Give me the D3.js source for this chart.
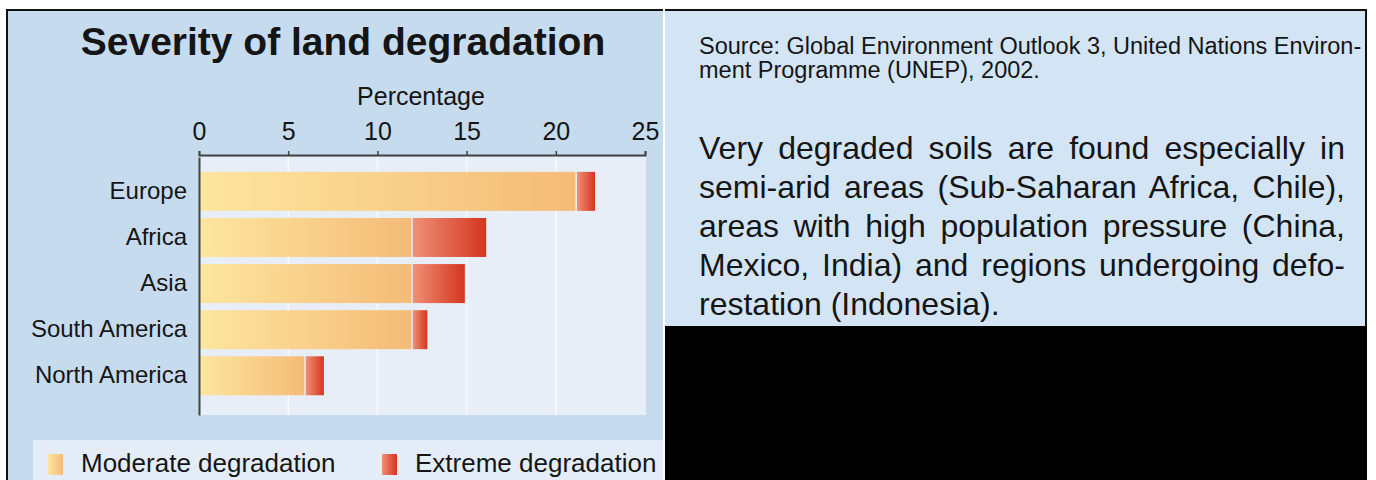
<!DOCTYPE html>
<html>
<head>
<meta charset="utf-8">
<script src="https://cdn.jsdelivr.net/npm/d3@7"></script>
<style>
  body { margin: 0; background: #fff; }
  text { font-family: "Liberation Sans", Arial, sans-serif; fill: #151515; }
</style>
</head>
<body>
<div id="chart"></div>
<script>
// values
const categories = ["Europe", "Africa", "Asia", "South America", "North America"];
const moderate = [21.1, 11.9, 11.9, 11.9, 5.9];
const extreme = [1.1, 4.2, 3.0, 0.9, 1.1];
const xTicks = [0, 5, 10, 15, 20, 25];
const legendLabels = ["Moderate degradation", "Extreme degradation"];
const sourceLines = [
  "Source: Global Environment Outlook 3, United Nations Environ-",
  "ment Programme (UNEP), 2002."
];
const noteLines = [
  "Very degraded soils are found especially in",
  "semi-arid areas (Sub-Saharan Africa, Chile),",
  "areas with high population pressure (China,",
  "Mexico, India) and regions undergoing defo-",
  "restation (Indonesia)."
];

const W = 1376, H = 480;

const svg = d3.select("#chart")
  .append("svg")
    .attr("width", W)
    .attr("height", H);

svg.append("rect").attr("width", W).attr("height", H).attr("fill", "#fff");

// gradients for the bars
const defs = svg.append("defs");
function grad(id, c0, c1) {
  const g = defs.append("linearGradient").attr("id", id)
    .attr("x1", 0).attr("x2", 1).attr("y1", 0).attr("y2", 0);
  g.append("stop").attr("offset", "0%").attr("stop-color", c0);
  g.append("stop").attr("offset", "100%").attr("stop-color", c1);
}
grad("gradModerate", "#fde69f", "#f4bb77");
grad("gradExtreme", "#ef9176", "#d4351e");

// ---- left panel ----
svg.append("rect")
  .attr("x", 6).attr("y", 9).attr("width", 657).attr("height", H)
  .attr("fill", "#c7dbef");
svg.append("path")
  .attr("d", `M7,${H} V10 H663`)
  .attr("fill", "none").attr("stroke", "#111").attr("stroke-width", 2);

svg.append("text")
  .attr("x", 343).attr("y", 55)
  .attr("text-anchor", "middle")
  .style("font-size", "39px")
  .style("font-weight", "bold")
  .text("Severity of land degradation");

const x = d3.scaleLinear()
  .domain([0, 25])
  .range([199, 645]);

const y = d3.scaleBand()
  .domain(categories)
  .range([157, 415])
  .paddingInner(0.154)
  .paddingOuter(0.375)
  .align(0.43);

// plot background
svg.append("rect")
  .attr("x", x(0)).attr("y", y.range()[0])
  .attr("width", 447).attr("height", y.range()[1] - y.range()[0])
  .attr("fill", "#e7eef8");

// faint grid lines
svg.append("g")
  .selectAll("line")
  .data(xTicks.slice(1, -1))
  .join("line")
    .attr("x1", d => x(d)).attr("x2", d => x(d))
    .attr("y1", y.range()[0]).attr("y2", y.range()[1])
    .attr("stroke", "#fff").attr("stroke-width", 1.5).attr("opacity", 0.8);

// bars
const bars = svg.append("g")
  .selectAll("g")
  .data(categories)
  .join("g");

bars.append("rect")
  .attr("x", x(0) + 1)
  .attr("y", d => y(d))
  .attr("width", (d, i) => x(moderate[i]) - x(0) - 1)
  .attr("height", y.bandwidth())
  .attr("fill", "url(#gradModerate)");

bars.append("rect")
  .attr("x", (d, i) => x(moderate[i]) + 1.5)
  .attr("y", d => y(d))
  .attr("width", (d, i) => x(moderate[i] + extreme[i]) - x(moderate[i]) - 1.5)
  .attr("height", y.bandwidth())
  .attr("fill", "url(#gradExtreme)");

// top axis
const xAxis = svg.append("g")
  .attr("transform", "translate(0,155)")
  .call(d3.axisTop(x).tickValues(xTicks).tickSize(4).tickSizeOuter(4).tickPadding(11));
xAxis.select(".domain").attr("stroke", "#444").attr("stroke-width", 2);
xAxis.selectAll(".tick line").attr("stroke", "#444").attr("stroke-width", 1.5);
xAxis.selectAll("text")
  .style("font-size", "25px")
  .style("font-family", "'Liberation Sans', Arial, sans-serif")
  .attr("fill", "#151515");

svg.append("text")
  .attr("x", 421).attr("y", 105)
  .attr("text-anchor", "middle")
  .style("font-size", "25px")
  .text("Percentage");

// left axis with category names
const yAxis = svg.append("g")
  .attr("transform", `translate(${x(0)},0)`)
  .call(d3.axisLeft(y).tickSize(0).tickPadding(12));
yAxis.select(".domain").attr("stroke", "#444").attr("stroke-width", 2);
yAxis.selectAll("text")
  .style("font-size", "24px")
  .style("font-family", "'Liberation Sans', Arial, sans-serif")
  .attr("fill", "#151515");

// legend
svg.append("rect")
  .attr("x", 33).attr("y", 440).attr("width", 630).attr("height", 40)
  .attr("fill", "#e4edf7");

const legend = svg.append("g")
  .selectAll("g")
  .data(legendLabels)
  .join("g")
    .attr("transform", (d, i) => `translate(${[48, 382][i]},454)`);
legend.append("rect")
  .attr("width", 15).attr("height", 21)
  .attr("fill", (d, i) => i ? "url(#gradExtreme)" : "url(#gradModerate)");
legend.append("text")
  .attr("x", 33).attr("y", 18)
  .style("font-size", "26px")
  .text(d => d);

// ---- right panel ----
svg.append("rect")
  .attr("x", 665).attr("y", 10).attr("width", 701).attr("height", 316)
  .attr("fill", "#d3e5f5");
svg.append("path")
  .attr("d", "M665,10 H1366 V326")
  .attr("fill", "none").attr("stroke", "#111").attr("stroke-width", 2);
svg.append("rect")
  .attr("x", 665).attr("y", 326).attr("width", 702).attr("height", H - 326)
  .attr("fill", "#000");

svg.append("g")
  .selectAll("text")
  .data(sourceLines)
  .join("text")
    .attr("x", 699)
    .attr("y", (d, i) => 54 + i * 24)
    .style("font-size", "23.5px")
    .text(d => d);

// justified note text
const noteWidth = 646;
const note = svg.append("g");
noteLines.forEach((line, i) => {
  const t = note.append("text")
    .attr("x", 699)
    .attr("y", 159 + i * 39)
    .style("font-size", "32px")
    .text(line);
  if (i < noteLines.length - 1) {
    const len = t.node().getComputedTextLength();
    const gaps = line.split(" ").length - 1;
    t.attr("word-spacing", (noteWidth - len) / gaps);
  }
});
</script>
</body>
</html>
